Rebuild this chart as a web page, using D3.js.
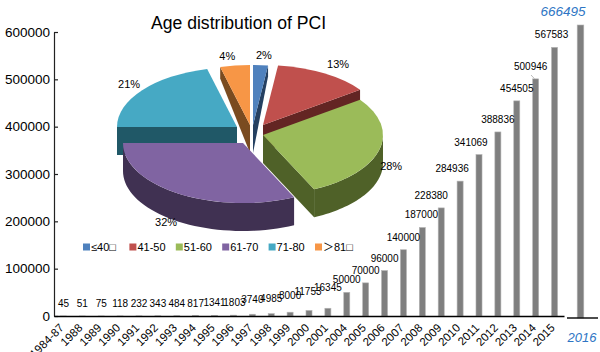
<!DOCTYPE html>
<html lang="en">
<head>
<meta charset="UTF-8">
<title>Age distribution of PCI</title>
<script src="https://d3js.org/d3.v7.min.js"></script>
<style>
    html, body { margin: 0; padding: 0; background: #fff; overflow: hidden; }
    svg { display: block; }
    text { font-family: "Liberation Sans", "Noto Sans CJK SC", sans-serif; fill: #000; }
</style>
</head>
<body>
<svg width="600" height="352"></svg>
<script>
// bar data
const years = ["1984-87", "1988", "1989", "1990", "1991", "1992", "1993", "1994", "1995", "1996", "1997", "1998", "1999", "2000", "2001", "2004", "2005", "2006", "2007", "2008", "2009", "2010", "2011", "2012", "2013", "2014", "2015"];
const cases = [45, 51, 75, 118, 232, 343, 484, 817, 1341, 1803, 3740, 4985, 8000, 11753, 16345, 50000, 70000, 96000, 140000, 187000, 228380, 284936, 341069, 388836, 454505, 500946, 567583];
const lastYear = ["2016"];
const lastCases = [666495];
const yTicks = [0, 100000, 200000, 300000, 400000, 500000, 600000];

// pie data
const ageGroups = ["≤40□", "41-50", "51-60", "61-70", "71-80", "＞81□"];
const agePercent = [2, 13, 28, 32, 21, 4];
const topColors = ["#4f81bd", "#c0504d", "#9bbb59", "#8064a2", "#46a9c4", "#f79646"];
const wallColors = ["#254061", "#632523", "#4f6128", "#403152", "#205867", "#7a4b20"];

// layout tweaks
const sliceShift = [[3, -5], [13, -5], [13, 5], [-7, 13], [-13, -3], [0, -5]];
const pctNudge = [[2, 1], [3, 0], [-9, 13], [-1, 19], [4, 0], [-5, 1]];
const labelNudge = { "1997": -2, "1998": -3, "1999": -4, "2000": -6, "2001": -8 };
const labelShiftX = { "1996": 1, "2000": -1, "2008": -1, "2009": -10, "2010": -8, "2011": -8, "2014": -5, "2015": -3 };

const svg = d3.select("svg");

const x = d3.scaleBand().domain(years).range([54, 564]).paddingInner(0.68).paddingOuter(0.34);
const y = d3.scaleLinear().domain([0, 600000]).range([316, 32]);
// the 2016 bar sits in its own little panel with its own scale, as in the picture
const x2 = d3.scaleBand().domain(lastYear).range([564, 597]).paddingInner(0.8).paddingOuter(0.4);
const y2 = d3.scaleLinear().domain([0, 666495]).range([318, 25]);

// bars
svg.selectAll(".bar")
    .data(years)
    .enter().append("rect")
    .attr("class", "bar")
    .attr("x", d => x(d))
    .attr("y", (d, i) => y(cases[i]))
    .attr("width", x.bandwidth())
    .attr("height", (d, i) => y(0) - y(cases[i]))
    .attr("fill", "#7f7f7f")
    .attr("stroke", "#b4b4b4")
    .attr("stroke-width", 0.6);

svg.append("rect")
    .attr("x", x2("2016"))
    .attr("y", y2(lastCases[0]))
    .attr("width", x2.bandwidth())
    .attr("height", y2(0) - y2(lastCases[0]))
    .attr("fill", "#7f7f7f")
    .attr("stroke", "#b4b4b4")
    .attr("stroke-width", 0.6);

// axes
const yAxis = svg.append("g")
    .attr("transform", "translate(54,0)")
    .call(d3.axisLeft(y).tickValues(yTicks).tickFormat(d3.format("d")).tickSizeInner(-4).tickSizeOuter(0).tickPadding(4));
yAxis.selectAll("text").style("font-size", "13.5px");
yAxis.selectAll("line").attr("stroke", "#222").attr("stroke-width", 1.2);
yAxis.select(".domain").attr("stroke", "#222").attr("stroke-width", 1.2);

const xAxis = svg.append("g")
    .attr("transform", "translate(0,316)")
    .call(d3.axisBottom(x).tickSize(0).tickPadding(0));
xAxis.select(".domain").attr("stroke", "#000").attr("stroke-width", 1.4);
xAxis.selectAll("text")
    .style("font-size", "11.5px")
    .attr("text-anchor", "end")
    .attr("dx", "-8.2")
    .attr("dy", "9.6")
    .attr("transform", "rotate(-45)");

svg.append("line")
    .attr("x1", 567).attr("x2", 598)
    .attr("y1", y2(0)).attr("y2", y2(0))
    .attr("stroke", "#000").attr("stroke-width", 1.4);

svg.append("text")
    .attr("x", 582).attr("y", 342)
    .attr("text-anchor", "middle")
    .style("font-size", "13px")
    .style("font-style", "italic")
    .style("fill", "#2e75c4")
    .text(lastYear[0]);

// value labels
svg.selectAll(".val")
    .data(years)
    .enter().append("text")
    .attr("class", "val")
    .attr("x", d => x(d) + x.bandwidth() / 2 + (labelShiftX[d] || 0))
    .attr("y", (d, i) => Math.min(y(cases[i]) - 9, 308) + (labelNudge[d] || 0))
    .attr("text-anchor", "middle")
    .style("font-size", "10px")
    .text((d, i) => cases[i]);

svg.append("text")
    .attr("x", 563).attr("y", 16)
    .attr("text-anchor", "middle")
    .style("font-size", "13.5px")
    .style("font-style", "italic")
    .style("fill", "#2e75c4")
    .text(lastCases[0]);

// leader line of 500946
svg.append("line")
    .attr("x1", 531).attr("y1", 75)
    .attr("x2", x("2014") + 2).attr("y2", y(500946))
    .attr("stroke", "#bbb");

// 3D pie
const pieX = 250, pieY = 130, rx = 120, ry = 60, depth = 28;
const tilt = ry / rx;

const slices = d3.pie().sort(null)(agePercent).map((s, i) => ({
    ...s,
    i: i,
    cx: pieX + sliceShift[i][0],
    cy: pieY + sliceShift[i][1],
    mid: (s.startAngle + s.endAngle) / 2
}));

const arc = d3.arc().innerRadius(0).outerRadius(rx);
const wallLine = d3.line();

// wall height shrinks toward the back of the pie
const wallAt = dy => dy >= 0 ? depth : depth - 17 * (-dy / ry);
const rim = (s, a) => [s.cx + rx * Math.sin(a), s.cy - ry * Math.cos(a)];

function cutWall(s, a) {
    const p = rim(s, a);
    return [[s.cx, s.cy], p, [p[0], p[1] + wallAt(p[1] - s.cy)], [s.cx, s.cy + depth]];
}

function outerWall(s) {
    const a0 = Math.max(s.startAngle, Math.PI / 2);
    const a1 = Math.min(s.endAngle, 3 * Math.PI / 2);
    if (a1 <= a0) return null;
    const angles = d3.range(0, 41).map(k => a0 + (a1 - a0) * k / 40);
    const upper = angles.map(a => rim(s, a));
    const lower = angles.map(a => rim(s, a)).reverse().map(p => [p[0], p[1] + depth]);
    return upper.concat(lower);
}

const pieG = svg.append("g");
slices.slice().sort((a, b) => d3.descending(Math.cos(a.mid), Math.cos(b.mid))).forEach(s => {
    const wall = wallColors[s.i];
    // only the cut faces turned to the viewer
    if (s.endAngle < Math.PI) {
        pieG.append("path").attr("d", wallLine(cutWall(s, s.endAngle)) + "Z").attr("fill", wall);
    }
    if (s.startAngle > Math.PI) {
        pieG.append("path").attr("d", wallLine(cutWall(s, s.startAngle)) + "Z").attr("fill", wall);
    }
    const outer = outerWall(s);
    if (outer) {
        pieG.append("path").attr("d", wallLine(outer) + "Z").attr("fill", wall);
    }
    pieG.append("path")
        .attr("d", arc(s))
        .attr("transform", `translate(${s.cx},${s.cy}) scale(1,${tilt})`)
        .attr("fill", topColors[s.i]);
});

// percent labels
svg.selectAll(".pct")
    .data(slices)
    .enter().append("text")
    .attr("class", "pct")
    .attr("x", d => d.cx + 1.18 * rx * Math.sin(d.mid) + pctNudge[d.i][0])
    .attr("y", d => d.cy - 1.18 * ry * Math.cos(d.mid) + pctNudge[d.i][1] + 4)
    .attr("text-anchor", "middle")
    .style("font-size", "11px")
    .text(d => d.data + "%");

// title
svg.append("text")
    .attr("x", 238.5).attr("y", 29)
    .attr("text-anchor", "middle")
    .style("font-size", "17.6px")
    .text("Age distribution of PCI");

// legend
const legendX = d3.scalePoint().domain(ageGroups).range([83, 315]);
const legend = svg.selectAll(".legend")
    .data(ageGroups)
    .enter().append("g")
    .attr("class", "legend")
    .attr("transform", d => `translate(${legendX(d)},247)`);
legend.append("rect")
    .attr("y", -3.5)
    .attr("width", 7).attr("height", 7)
    .attr("fill", (d, i) => topColors[i]);
legend.append("text")
    .attr("x", 8).attr("y", 4)
    .style("font-size", "11px")
    .text(d => d);
</script>
</body>
</html>
